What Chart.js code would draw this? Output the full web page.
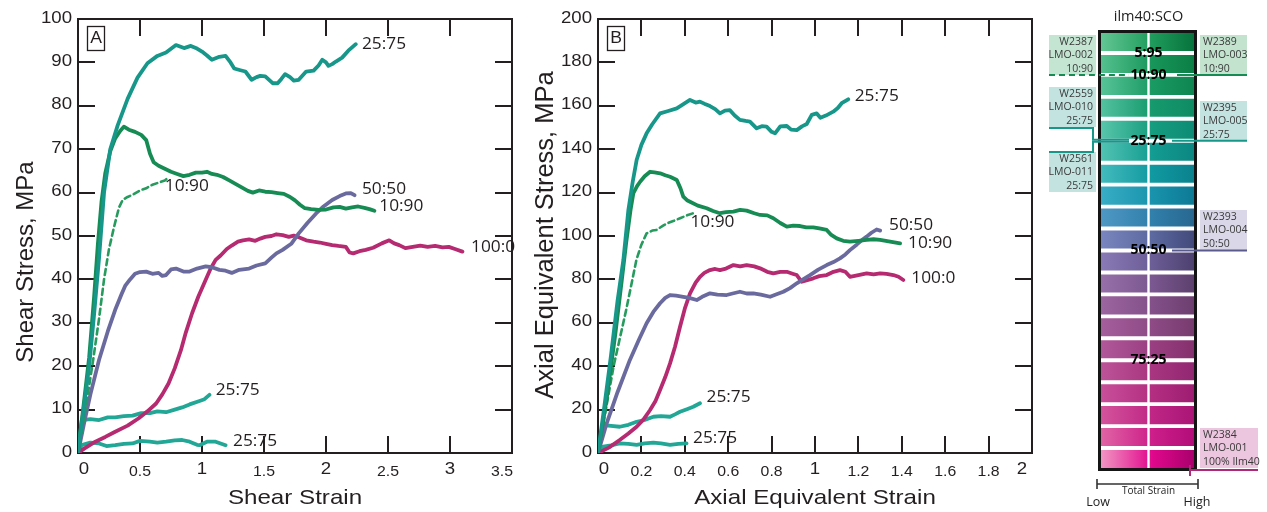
<!DOCTYPE html>
<html>
<head>
<meta charset="utf-8">
<script src="https://cdn.jsdelivr.net/npm/chart.js@4.4.1/dist/chart.umd.min.js"></script>
<style>
  html, body { margin: 0; padding: 0; background: #fff; }
  #wrap { position: relative; width: 1267px; height: 512px; overflow: hidden; }
  canvas { position: absolute; top: 0; }
</style>
</head>
<body>
<div id="wrap">
  <canvas id="shear" width="520" height="512" style="left:0"></canvas>
  <canvas id="axial" width="520" height="512" style="left:520px"></canvas>
  <canvas id="key" width="227" height="512" style="left:1040px"></canvas>
</div>
<script>
// ---------- shear panel (A) ----------
const shearTicksX = [0, 0.5, 1, 1.5, 2, 2.5, 3, 3.5];
const shearTickLabelsX = ["0", "0.5", "1", "1.5", "2", "2.5", "3", "3.5"];
const shearTicksY = [0, 10, 20, 30, 40, 50, 60, 70, 80, 90, 100];

const shearX_2575a = [0,0.04,0.09,0.13,0.17,0.21,0.26,0.32,0.4,0.48,0.56,0.64,0.71,0.79,0.855,0.91,0.96,1.0,1.04,1.08,1.14,1.19,1.23,1.26,1.31,1.35,1.4,1.44,1.47,1.51,1.57,1.61,1.64,1.67,1.71,1.74,1.78,1.84,1.9,1.94,1.97,2.0,2.02,2.05,2.08,2.13,2.18,2.24];
const shearY_2575a = [0,9,20,32,45,60,70,75.5,81.6,86.5,89.8,91.5,92.3,94,93.3,93.8,93.2,92.5,91.6,90.6,91.3,91.5,90,88.6,88.2,87.9,86,86.6,86.9,86.8,85.2,85.2,86.2,87.3,86.6,85.8,86,87.9,88.1,89.3,90.6,90,89.2,89.6,90.2,91.1,92.7,94.2];

const shearX_1090 = [0,0.045,0.09,0.13,0.16,0.19,0.22,0.26,0.3,0.34,0.37,0.41,0.46,0.51,0.55,0.58,0.61,0.65,0.7,0.75,0.8,0.85,0.9,0.95,1.0,1.04,1.08,1.12,1.17,1.22,1.27,1.32,1.37,1.41,1.46,1.51,1.56,1.61,1.66,1.71,1.75,1.79,1.83,1.88,1.94,2.0,2.06,2.11,2.16,2.21,2.26,2.31,2.35,2.39];
const shearY_1090 = [0,11,22,36,48,58,64.5,69.5,72.5,74.2,75.2,74.5,74,73.3,72.1,69,67,66.2,65.5,64.8,64.3,63.8,64.1,64.6,64.6,64.8,64.3,64.1,63.6,62.8,62,61.2,60.4,60,60.5,60.2,60.1,59.9,59.7,59,58.2,57.2,56.4,56.2,56,56.1,56.6,56.7,56.3,56.6,56.8,56.5,56.2,55.8];

const shearX_1090d = [0,0.06,0.12,0.17,0.21,0.25,0.29,0.33,0.36,0.4,0.44,0.5,0.55,0.6,0.65,0.7,0.73];
const shearY_1090d = [0,10,21,31,40,47,52,56.5,58.3,59,59.5,60.5,61,61.8,62.3,62.8,63.5];

const shearX_5050 = [0,0.05,0.1,0.17,0.24,0.3,0.35,0.38,0.42,0.46,0.5,0.55,0.6,0.65,0.68,0.71,0.75,0.79,0.85,0.9,0.96,1.03,1.08,1.14,1.19,1.24,1.3,1.38,1.44,1.51,1.56,1.6,1.65,1.72,1.78,1.85,1.92,1.98,2.05,2.11,2.16,2.2,2.23];
const shearY_5050 = [0,7,13.5,21.5,28,33,36.5,38.5,40,41.3,41.7,41.8,41.3,41.5,40.8,41,42.3,42.5,41.8,41.8,42.5,43,42.8,42.2,42,41.5,42.2,42.5,43.2,43.7,45,46,46.8,48.2,50.6,53,55.2,56.8,58.3,59.2,59.8,59.9,59.4];

const shearX_1000 = [0,0.05,0.14,0.22,0.3,0.4,0.49,0.56,0.63,0.68,0.73,0.78,0.83,0.87,0.92,0.97,1.03,1.07,1.11,1.15,1.2,1.24,1.29,1.33,1.38,1.43,1.47,1.51,1.56,1.6,1.65,1.7,1.74,1.78,1.84,1.9,1.95,2.0,2.05,2.1,2.16,2.19,2.22,2.27,2.32,2.38,2.45,2.51,2.55,2.59,2.64,2.7,2.76,2.82,2.88,2.94,2.99,3.04,3.1];
const shearY_1000 = [0,1,2.6,3.7,4.9,6.3,8,9.6,11.4,13.5,16,19.5,23.7,27.8,32.2,36,39.9,42.5,44.5,45.5,47,47.8,48.7,49,49.2,48.9,49.4,49.8,50,50.4,50.2,49.8,50.1,49.7,49,48.7,48.5,48.2,47.9,47.7,47.5,46.2,46,46.5,46.8,47.3,48.3,49,48.3,47.9,47.2,47.5,47.8,47.5,47.7,47.4,47.5,47,46.4];

const shearX_2575b = [0,0.03,0.1,0.17,0.24,0.3,0.37,0.44,0.51,0.58,0.64,0.71,0.78,0.84,0.9,0.98,1.02,1.06];
const shearY_2575b = [0,7.6,7.8,7.6,8.2,8.2,8.5,8.6,9.2,9.2,9.6,9.4,10,10.5,11.2,12,12.4,13.4];

const shearX_2575c = [0,0.03,0.1,0.17,0.23,0.3,0.37,0.44,0.5,0.58,0.64,0.71,0.78,0.84,0.9,0.96,0.98,1.04,1.11,1.15,1.19];
const shearY_2575c = [0,1.8,2.4,2.2,1.6,1.8,2.1,2.2,2.8,2.6,2.4,2.6,2.9,3.0,2.6,1.9,1.8,2.6,2.6,2.2,1.8];

const shearLabelText = ["25:75", "10:90", "50:50", "10:90", "100:0", "25:75", "25:75"];
const shearLabelX = [2.29, 0.70, 2.29, 2.43, 3.17, 1.11, 1.25];
const shearLabelY = [94.2, 61.4, 60.8, 56.8, 47.4, 14.5, 2.6];

// ---------- axial panel (B) ----------
const axialTicksX = [0, 0.2, 0.4, 0.6, 0.8, 1, 1.2, 1.4, 1.6, 1.8, 2];
const axialTickLabelsX = ["0", "0.2", "0.4", "0.6", "0.8", "1", "1.2", "1.4", "1.6", "1.8", "2"];
const axialTicksY = [0, 20, 40, 60, 80, 100, 120, 140, 160, 180, 200];

const axialX_2575a = [0,0.03,0.06,0.09,0.117,0.14,0.16,0.178,0.2,0.224,0.25,0.286,0.32,0.363,0.39,0.424,0.45,0.47,0.49,0.516,0.54,0.562,0.585,0.608,0.63,0.654,0.68,0.7,0.731,0.755,0.777,0.8,0.816,0.84,0.87,0.89,0.916,0.94,0.962,0.985,1.008,1.025,1.05,1.084,1.105,1.123,1.153];
const axialY_2575a = [0,22,45,70,89,112,125,135,142,147.3,151.5,156.5,157.5,158.8,160.5,162.7,161.5,161.9,161,159.9,158.5,156.5,157.8,158,155.5,153.5,153,152.7,149.6,150.6,150.4,148,147.3,150.5,150.7,149,148.8,150.5,151.6,155.8,156.5,154.5,155.5,157.3,159,161.2,163];

const axialX_1090 = [0,0.04,0.08,0.11,0.13,0.15,0.163,0.18,0.194,0.215,0.24,0.26,0.286,0.31,0.332,0.363,0.38,0.393,0.41,0.424,0.46,0.501,0.53,0.562,0.59,0.624,0.655,0.685,0.72,0.747,0.78,0.808,0.84,0.87,0.9,0.931,0.96,0.992,1.02,1.054,1.075,1.1,1.13,1.161,1.2,1.238,1.27,1.3,1.346,1.392];
const axialY_1090 = [0,25,55,80,97,112,119.7,123,125,127.5,129.6,129.3,128.9,128,127.3,125.8,122,118.1,116.5,115.8,114,112.8,111.5,110.5,111,111.2,112,111.7,110.5,109.7,109.5,108.2,106,104.3,104.8,104.6,104,104,103.5,102.8,100.5,98.9,97.8,97.4,97.8,98.2,98.5,98.2,97.4,96.6];

const axialX_1090d = [0,0.072,0.13,0.177,0.2,0.224,0.25,0.27,0.3,0.317,0.35,0.378,0.41,0.439];
const axialY_1090d = [0,40,66,89,96,101.2,102.5,102.8,104.8,105.8,107,108.2,109.5,110.5];

const axialX_5050 = [0,0.04,0.09,0.147,0.19,0.224,0.255,0.286,0.31,0.332,0.36,0.393,0.42,0.455,0.48,0.516,0.55,0.593,0.62,0.654,0.685,0.716,0.75,0.793,0.82,0.854,0.885,0.916,0.945,0.977,1.015,1.054,1.085,1.115,1.14,1.161,1.192,1.215,1.238,1.26,1.284,1.3];
const axialY_5050 = [0,13.7,28,42.9,52.5,59.8,65,69,71.5,72.8,72.5,72,71.5,70.5,72,73.6,73,72.8,73.5,74.3,73.5,73.6,73,72,73,74.3,76,78.2,80,82,84.5,86.6,88,89.7,91.5,93.5,96,98,99.7,101.5,103,102.5];

const axialX_1000 = [0,0.05,0.1,0.14,0.178,0.21,0.24,0.265,0.286,0.31,0.332,0.355,0.378,0.4,0.424,0.45,0.47,0.49,0.516,0.54,0.562,0.59,0.624,0.655,0.685,0.72,0.747,0.78,0.808,0.84,0.87,0.9,0.916,0.939,0.96,0.992,1.02,1.054,1.085,1.115,1.14,1.161,1.2,1.238,1.27,1.3,1.33,1.361,1.385,1.407];
const axialY_1000 = [0,2.5,6,9,12.1,15.5,19.8,24,29,35,41.3,49,58.2,66.5,73.6,78.5,81.2,83,84.3,84.8,84.3,85,86.6,86,86.6,86,85.1,83.5,82.8,83.5,83.5,82.5,82,78.9,79.5,80.5,81.5,82,83.5,84.3,83.5,81.2,82,82.8,82.3,82.8,82.5,82,81.2,79.7];

const axialX_2575b = [0,0.024,0.06,0.1,0.14,0.178,0.215,0.255,0.29,0.332,0.355,0.378,0.41,0.439,0.47];
const axialY_2575b = [0,12.9,12.5,12.1,13,14.4,15.2,16.7,17,16.7,17.8,19,20.2,21.3,22.9];

const axialX_2575c = [0,0.024,0.06,0.1,0.14,0.178,0.215,0.255,0.29,0.332,0.37,0.408];
const axialY_2575c = [0,2.9,3.5,4.4,4.2,3.7,4.4,4.8,4.4,3.7,4.2,4.4];

const axialLabelText = ["25:75", "10:90", "50:50", "10:90", "100:0", "25:75", "25:75"];
const axialLabelX = [1.183, 0.426, 1.341, 1.429, 1.444, 0.5, 0.438];
const axialLabelY = [164.4, 106.1, 104.8, 96.6, 80.3, 25.5, 6.5];

// ---------- composition key ----------
const keyRowUnits = [1,1,1,1,1,1,1,1,1,1,1,1,1,1,1,1,1,1,1,1];
const keyRatioText = ["5:95", "10:90", "25:75", "50:50", "75:25"];
const keyRatioLevel = [19, 18, 15, 10, 5];
const keySampleIds = ["W2387", "W2559", "W2561", "W2389", "W2395", "W2393", "W2384"];
const keySampleRuns = ["LMO-002", "LMO-010", "LMO-011", "LMO-003", "LMO-005", "LMO-004", "LMO-001"];
const keySampleMix = ["10:90", "25:75", "25:75", "10:90", "25:75", "50:50", "100% Ilm40"];
const keySampleLevel = [18, 15, 15, 18, 15, 10, 0];

// colours
const TEAL = "#17968a", GREEN = "#168c54", GREEN_D = "#279a5e", PURPLE = "#6a6a9e",
      MAGENTA = "#b52a70", TEAL_LT = "#22a797", INK = "#231f20";

// row shading, top row first: light left, mid, dark right
const keyRowShades = [
  ["#66c997","#1f9b5c","#05703a"], ["#58c391","#18965a","#0a7c44"],
  ["#5bc69b","#1a9a63","#0e8450"], ["#57c4a2","#16996d","#0f8a63"],
  ["#5cc8ac","#169c7f","#0d8a74"], ["#55c5b5","#139c91","#0b8581"],
  ["#46bcbe","#1099a0","#0a808d"], ["#3aafc6","#1993ad","#0c7894"],
  ["#5099c6","#317fab","#27668e"], ["#7b87c0","#5b69a0","#424778"],
  ["#8b7bb8","#6b5d96","#4b3f6c"], ["#9871aa","#7a5790","#5b3f6b"],
  ["#9d67a1","#835089","#6b3d6d"], ["#a65f9d","#8d4a85","#763a6d"],
  ["#b1599b","#993f81","#84306d"], ["#bd5599","#a8357f","#902671"],
  ["#c9519b","#b32e81","#9c1c71"], ["#d5569d","#bf2685","#a81475"],
  ["#e168a6","#cd1e89","#b00c79"], ["#f29ec6","#e0088c","#a5006a"]
];

const pts = (xs, ys) => xs.map((x, i) => ({ x: x, y: ys[i] }));

function stretchText(ctx, s, x, y, font, align, sx, baseline, color) {
  ctx.save();
  ctx.font = font;
  ctx.fillStyle = color || INK;
  ctx.textAlign = align;
  ctx.textBaseline = baseline || "middle";
  ctx.translate(x, y);
  ctx.scale(sx, 1);
  ctx.fillText(s, 0, 0);
  ctx.restore();
}

const SANS = '"Liberation Sans", Arial, sans-serif';
const LBL = '"Open Sans", "Noto Sans", sans-serif';

// frame, inward ticks, tick labels, titles and curve tags
const frameAxes = {
  id: "frameAxes",
  beforeDatasetsDraw(chart, args, o) {
    const { ctx, chartArea: a, scales: { x, y } } = chart;
    ctx.save();
    ctx.strokeStyle = INK;
    ctx.lineWidth = 2;
    ctx.beginPath();
    o.xTicks.slice(1, -1).forEach(v => {
      const px = Math.round(x.getPixelForValue(v));
      ctx.moveTo(px, a.bottom); ctx.lineTo(px, a.bottom - 17);
      ctx.moveTo(px, a.top); ctx.lineTo(px, a.top + 17);
    });
    o.yTicks.slice(1, -1).forEach(v => {
      const py = Math.round(y.getPixelForValue(v));
      ctx.moveTo(a.left, py); ctx.lineTo(a.left + 17, py);
      ctx.moveTo(a.right, py); ctx.lineTo(a.right - 17, py);
    });
    ctx.stroke();
    ctx.strokeRect(a.left, a.top, a.right - a.left, a.bottom - a.top);

    // panel letter
    ctx.lineWidth = 1.3;
    ctx.strokeRect(a.left + 9.5, a.top + 7.5, 17, 24);
    stretchText(ctx, o.letter, a.left + 18, a.top + 20, "16px " + SANS, "center", 1.1);

    // tick labels
    const last = o.xTicks.length - 1;
    o.xTicks.forEach((v, i) => {
      const big = Number.isInteger(v);
      let px = x.getPixelForValue(v);
      if (i === 0) px += 6;
      if (i === last) px -= 10;
      stretchText(ctx, o.xLabels[i], px, big ? 473.5 : 476,
        (big ? "16.5px " : "14px ") + SANS, "center", 1.13, "alphabetic");
    });
    o.yTicks.forEach(v => {
      stretchText(ctx, String(v), a.left - 6, y.getPixelForValue(v) - 1,
        "16.5px " + SANS, "right", 1.13);
    });

    // axis titles
    stretchText(ctx, o.xTitle, (a.left + a.right) / 2, 503.5, "21px " + SANS, "center", 1.15, "alphabetic");
    ctx.save();
    ctx.translate(33, o.yTitleMid);
    ctx.rotate(-Math.PI / 2);
    ctx.font = o.yTitleSize + "px " + SANS;
    ctx.fillStyle = INK;
    ctx.textAlign = "center";
    ctx.textBaseline = "alphabetic";
    ctx.fillText(o.yTitle, 0, 0);
    ctx.restore();
    ctx.restore();
  },
  afterDatasetsDraw(chart, args, o) {
    const { ctx, scales: { x, y } } = chart;
    o.tagText.forEach((t, i) => {
      stretchText(ctx, t, x.getPixelForValue(o.tagX[i]), y.getPixelForValue(o.tagY[i]),
        "16px " + LBL, "left", 1.08);
    });
  }
};

function line(label, xs, ys, color, dashed) {
  return {
    label: label,
    data: pts(xs, ys),
    borderColor: color,
    borderWidth: dashed ? 2.6 : 3.8,
    borderDash: dashed ? [6, 4] : [],
    pointRadius: 0,
    fill: false,
    tension: 0
  };
}

function panelOptions(xMax, yMax, extra) {
  return {
    responsive: false,
    animation: false,
    events: [],
    layout: { padding: { left: 78, right: 8, top: 19, bottom: 59 } },
    elements: { line: { borderCapStyle: "round", borderJoinStyle: "round" } },
    scales: {
      x: { type: "linear", min: 0, max: xMax, display: false },
      y: { type: "linear", min: 0, max: yMax, display: false }
    },
    plugins: { legend: { display: false }, tooltip: { enabled: false }, frameAxes: extra }
  };
}

new Chart(document.getElementById("shear"), {
  type: "line",
  data: {
    datasets: [
      line("25:75", shearX_2575a, shearY_2575a, TEAL),
      line("10:90", shearX_1090, shearY_1090, GREEN),
      line("10:90 dashed", shearX_1090d, shearY_1090d, GREEN_D, true),
      line("50:50", shearX_5050, shearY_5050, PURPLE),
      line("100:0", shearX_1000, shearY_1000, MAGENTA),
      line("25:75 b", shearX_2575b, shearY_2575b, TEAL_LT),
      line("25:75 c", shearX_2575c, shearY_2575c, TEAL_LT)
    ]
  },
  options: panelOptions(3.5, 100, {
    letter: "A", xTicks: shearTicksX, xLabels: shearTickLabelsX, yTicks: shearTicksY,
    xTitle: "Shear Strain", yTitle: "Shear Stress, MPa", yTitleSize: 24, yTitleMid: 262,
    tagText: shearLabelText, tagX: shearLabelX, tagY: shearLabelY
  }),
  plugins: [frameAxes]
});

new Chart(document.getElementById("axial"), {
  type: "line",
  data: {
    datasets: [
      line("25:75", axialX_2575a, axialY_2575a, TEAL),
      line("10:90", axialX_1090, axialY_1090, GREEN),
      line("10:90 dashed", axialX_1090d, axialY_1090d, GREEN_D, true),
      line("50:50", axialX_5050, axialY_5050, PURPLE),
      line("100:0", axialX_1000, axialY_1000, MAGENTA),
      line("25:75 b", axialX_2575b, axialY_2575b, TEAL_LT),
      line("25:75 c", axialX_2575c, axialY_2575c, TEAL_LT)
    ]
  },
  options: panelOptions(2, 200, {
    letter: "B", xTicks: axialTicksX, xLabels: axialTickLabelsX, yTicks: axialTicksY,
    xTitle: "Axial Equivalent Strain", yTitle: "Axial Equivalent Stress, MPa", yTitleSize: 25.5, yTitleMid: 235,
    tagText: axialLabelText, tagX: axialLabelX, tagY: axialLabelY
  }),
  plugins: [frameAxes]
});

// ---------- key: stacked bar of shaded rows ----------
// box placement per sample (same order as keySampleIds)
const keyBoxes = [
  { side: "L", top: 35, exit: 75, dy: 0, col: GREEN, bg: "#c5e5d3", dashed: true },
  { side: "L", top: 87, exit: 128, dy: -1, col: TEAL, bg: "#c3e3e1" },
  { side: "L", top: 152, exit: 152, dy: 1, col: TEAL, bg: "#c3e3e1" },
  { side: "R", top: 35, col: GREEN, bg: "#c3e3cf", from: 137 },
  { side: "R", top: 101, col: TEAL, bg: "#c3e3e1", from: 132 },
  { side: "R", top: 210, col: "#5a5a8c", bg: "#dad8e8", from: 132 },
  { side: "R", top: 428, col: "#b0287a", bg: "#ecc5de", from: 150, wide: true }
];

const keyDecor = {
  id: "keyDecor",
  afterDraw(chart) {
    const { ctx, chartArea: a, scales: { y } } = chart;
    const cx = (a.left + a.right) / 2 + 1;
    ctx.save();
    // centre divider
    ctx.fillStyle = "#fff";
    ctx.fillRect(cx - 1.2, a.top, 2.4, a.bottom - a.top);
    // frame
    ctx.strokeStyle = "#151515";
    ctx.lineWidth = 3;
    ctx.strokeRect(a.left + 1.5, a.top + 0.5, a.right - a.left - 3, a.bottom - a.top - 1);

    stretchText(ctx, "ilm40:SCO", cx, 17, "14.5px " + LBL, "center", 1, "middle", "#222");

    // sample boxes and leaders
    keyBoxes.forEach((b, i) => {
      const rowY = y.getPixelForValue(keySampleLevel[i]);
      const lines = [keySampleIds[i], keySampleRuns[i], keySampleMix[i]];
      const bx = b.side === "L" ? 9 : 160;
      const bw = b.wide ? 58 : 47;
      ctx.fillStyle = b.bg;
      ctx.fillRect(bx, b.top, bw, 40);
      lines.forEach((t, k) => {
        stretchText(ctx, t, b.side === "L" ? bx + bw - 3 : bx + 3, b.top + 7 + k * 13.3,
          "10.5px " + LBL, b.side === "L" ? "right" : "left", 1, "middle", "#3a3a3a");
      });
      ctx.strokeStyle = b.col;
      ctx.lineWidth = 2;
      ctx.beginPath();
      if (b.side === "L") {
        if (b.dashed) ctx.setLineDash([6, 4]);
        ctx.moveTo(9, b.exit);
        ctx.lineTo(53, b.exit);
        ctx.lineTo(53, rowY + b.dy);
        ctx.lineTo(89, rowY + b.dy);
      } else {
        ctx.moveTo(b.from, rowY);
        ctx.lineTo(bx + bw, rowY);
        if (b.wide) { ctx.moveTo(b.from, rowY - 5); ctx.lineTo(b.from, rowY + 6); }
      }
      ctx.stroke();
      ctx.setLineDash([]);
    });

    // ratio tags on the stripes
    keyRatioText.forEach((t, i) => {
      stretchText(ctx, t, cx, y.getPixelForValue(keyRatioLevel[i]),
        "bold 14px " + LBL, "center", 1, "middle", "#000");
    });

    // strain scale
    ctx.strokeStyle = "#333";
    ctx.lineWidth = 1.6;
    ctx.beginPath();
    ctx.moveTo(a.left - 1, 484); ctx.lineTo(a.right + 1, 484);
    ctx.moveTo(a.left - 1, 479); ctx.lineTo(a.left - 1, 489);
    ctx.moveTo(a.right + 1, 479); ctx.lineTo(a.right + 1, 489);
    ctx.stroke();
    stretchText(ctx, "Total Strain", cx, 491, "10px " + LBL, "center", 1, "middle", "#222");
    stretchText(ctx, "Low", a.left, 502, "12.5px " + LBL, "center", 1, "middle", "#222");
    stretchText(ctx, "High", a.right, 502, "12.5px " + LBL, "center", 1, "middle", "#222");
    ctx.restore();
  }
};

const keyDatasets = keyRowShades.slice().reverse().map((shade, i) => ({
  label: "row " + (i + 1),
  data: [keyRowUnits[i]],
  backgroundColor: (c) => {
    const area = c.chart.chartArea;
    if (!area) return shade[1];
    const g = c.chart.ctx.createLinearGradient(area.left, 0, area.right, 0);
    g.addColorStop(0, shade[0]);
    g.addColorStop(0.55, shade[1]);
    g.addColorStop(1, shade[2]);
    return g;
  },
  borderColor: "#fff",
  borderWidth: { top: 2.3, bottom: 2.3, left: 0, right: 0 },
  borderSkipped: false,
  barPercentage: 1,
  categoryPercentage: 1,
  stack: "rows"
}));

new Chart(document.getElementById("key"), {
  type: "bar",
  data: { labels: [""], datasets: keyDatasets },
  options: {
    responsive: false,
    animation: false,
    events: [],
    layout: { padding: { left: 58, right: 70, top: 31, bottom: 42 } },
    scales: {
      x: { stacked: true, display: false },
      y: { stacked: true, min: 0, max: 20, display: false }
    },
    plugins: { legend: { display: false }, tooltip: { enabled: false } }
  },
  plugins: [keyDecor]
});
</script>
</body>
</html>
